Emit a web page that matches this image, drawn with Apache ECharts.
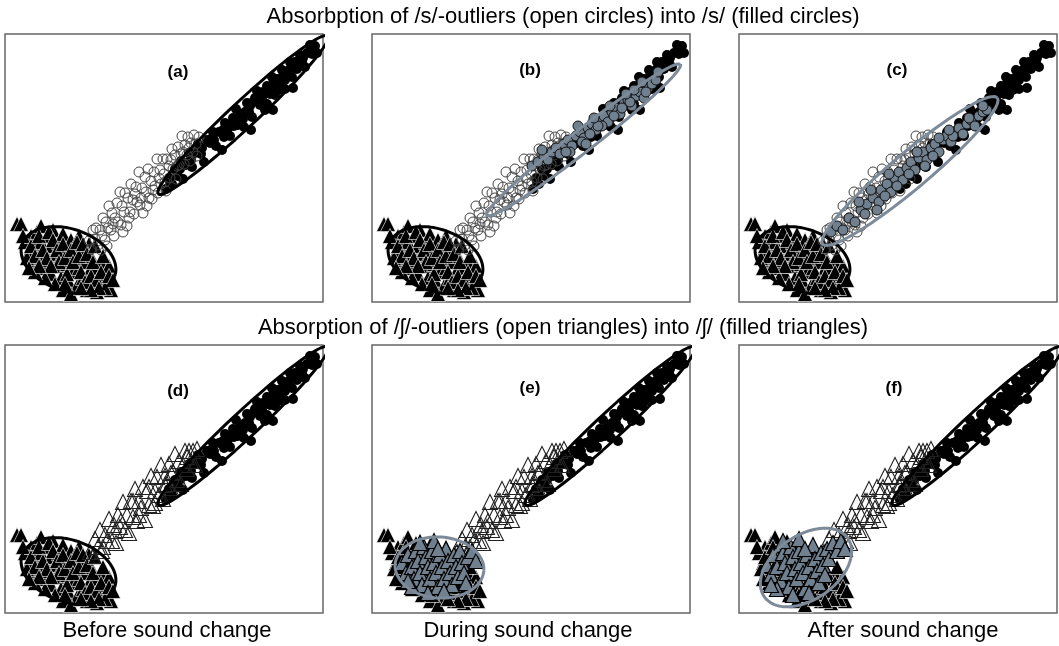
<!DOCTYPE html>
<html><head><meta charset="utf-8">
<script src="https://cdn.jsdelivr.net/npm/echarts@6/dist/echarts.min.js"></script>
<style>html,body{margin:0;padding:0;background:#fff}#c{width:1059px;height:646px}</style>
</head><body><div id="c"></div>
<script>
// Panel coordinates: x 0..318 from left, y 0..268 from bottom
const filledCircles = [[161,113],[164,124],[167,118],[170,133],[173,126],[176,141],[178,123],[181,137],[184,149],[187,135],[190,149],[193,158],[196,148],[199,140],[202,162],[205,159],[208,170],[211,156],[214,170],[217,152],[220,179],[222,171],[225,166],[228,184],[231,193],[233,177],[236,188],[239,175],[242,199],[244,190],[247,185],[250,204],[252,211],[255,197],[257,204],[260,192],[262,216],[265,208],[267,225],[270,207],[272,223],[275,217],[277,232],[280,213],[282,228],[285,240],[287,225],[290,240],[292,233],[295,247],[297,241],[300,235],[302,249],[305,257],[307,248],[310,256],[312,249],[245,196],[258,210],[268,218],[278,226],[288,236],[298,244],[248,200],[262,198],[274,212],[284,232],[294,238],[240,190],[230,183],[218,172],[206,163],[194,152],[183,140],[172,130],[226,176],[252,204],[266,214],[280,222],[268,192],[288,214],[246,172],[165,120],[175,133],[186,142],[197,154],[209,162],[219,165],[229,176],[238,183]];
const openCircles = [[84,61],[86,53],[88,72],[90,63],[91,74],[93,57],[95,72],[97,66],[98,84],[100,62],[101,80],[103,74],[104,96],[106,72],[107,89],[109,66],[110,84],[112,99],[113,80],[115,110],[116,77],[117,96],[119,90],[120,109],[122,76],[123,104],[125,90],[126,118],[128,102],[129,88],[131,115],[132,100],[134,130],[135,97],[137,114],[138,89],[140,125],[141,110],[143,133],[144,104],[146,121],[147,103],[149,130],[150,116],[152,143],[153,109],[155,132],[156,118],[158,143],[159,128],[161,111],[162,143],[164,136],[165,124],[167,153],[168,133],[170,147],[171,123],[173,155],[174,137],[176,148],[177,166],[179,138],[180,157],[182,147],[183,165],[185,141],[186,159],[188,150],[189,167],[191,158],[192,146],[194,165],[96,52],[102,56],[118,70],[124,84],[136,104],[142,96],[148,112],[160,120],[166,142],[178,150],[108,78],[130,108],[154,124],[172,136],[184,154]];
const grayCirclesB = [[160,136],[166,140],[172,146],[176,142],[180,150],[184,154],[188,148],[192,158],[196,162],[200,156],[204,166],[208,170],[212,164],[216,174],[220,178],[224,172],[228,182],[232,186],[236,180],[240,190],[244,194],[248,188],[252,198],[256,202],[260,196],[264,206],[268,210],[272,204],[276,214],[280,218],[284,222],[170,152],[198,150],[230,176],[262,212],[210,160],[226,176],[242,186],[258,200],[274,210],[250,194],[218,168],[206,176],[222,184],[238,196],[254,208],[270,220],[286,230],[194,150],[214,158]];
const grayCirclesC = [[92,70],[98,76],[104,72],[110,84],[116,80],[122,92],[128,98],[126,88],[134,104],[140,100],[142,112],[148,118],[152,110],[156,124],[160,130],[164,122],[168,134],[172,140],[176,132],[180,144],[184,150],[188,142],[192,154],[196,158],[200,150],[204,162],[208,166],[212,160],[216,170],[220,174],[224,168],[228,178],[232,182],[236,176],[240,186],[244,190],[248,192],[138,92],[150,128],[186,136],[200,164],[214,166],[230,184],[244,196],[170,128],[158,116],[120,100],[132,112],[146,106],[178,150],[194,146],[210,172]];
const filledTriangles = [[20,60],[24,50],[26,66],[28,40],[30,56],[32,70],[34,46],[36,60],[38,34],[40,52],[42,66],[44,42],[46,28],[46,56],[48,72],[50,48],[52,36],[54,60],[56,24],[56,46],[58,68],[60,54],[62,38],[64,20],[64,48],[66,62],[68,30],[70,42],[70,56],[72,16],[74,34],[76,50],[78,24],[80,40],[82,12],[84,30],[86,46],[88,20],[90,34],[92,10],[94,26],[96,40],[98,16],[100,28],[102,20],[104,36],[58,12],[50,18],[40,24],[36,76],[30,30],[106,12],[66,8],[84,58],[74,66],[12,78],[16,78],[18,66],[22,44],[26,56],[30,46],[34,66],[38,52],[42,44],[44,70],[48,62],[52,52],[54,40],[58,58],[60,44],[62,28],[66,52],[68,40],[72,60],[74,46],[76,30],[78,58],[80,20],[82,48],[86,26],[88,40],[90,56],[92,22],[96,30],[98,46],[100,14],[104,26],[108,22],[94,14],[86,12],[76,14],[60,18],[46,36],[34,36],[24,34]];
const openTriangles = [[85,61],[88,57],[90,74],[93,66],[95,83],[97,62],[100,78],[102,72],[104,94],[107,72],[109,88],[111,70],[113,98],[115,86],[118,111],[120,83],[122,98],[124,80],[126,112],[128,96],[130,124],[132,92],[134,112],[136,105],[138,126],[140,93],[142,122],[144,108],[146,137],[148,107],[150,122],[152,136],[154,118],[156,148],[158,114],[160,137],[162,129],[164,149],[166,125],[168,141],[170,159],[172,133],[174,152],[176,129],[178,148],[180,162],[182,144],[184,162],[186,152],[188,162],[190,148],[192,164],[98,66],[116,92],[134,98],[150,110],[166,140],[182,156],[128,112],[110,82],[144,126],[160,128]];
const grayTrianglesE = [[30,50],[34,40],[36,58],[40,46],[42,34],[44,62],[46,52],[48,40],[50,28],[52,66],[54,56],[56,46],[58,34],[60,62],[62,50],[64,40],[66,26],[68,58],[70,46],[72,34],[74,64],[76,52],[78,40],[80,28],[82,58],[84,46],[86,36],[88,62],[90,50],[92,40],[96,56],[100,62],[104,52],[48,70],[62,72],[40,26],[56,20],[72,22],[94,30],[66,64],[36,32]];
const grayTrianglesF = [[28,48],[32,38],[34,58],[38,46],[42,32],[44,60],[46,50],[48,40],[50,26],[52,66],[54,56],[56,44],[58,34],[60,62],[62,50],[64,40],[66,24],[68,58],[70,46],[72,34],[74,68],[76,54],[78,42],[80,30],[82,60],[84,48],[88,64],[90,54],[94,70],[98,62],[102,72],[106,64],[44,72],[60,74],[38,24],[54,18],[70,20],[86,38],[66,64],[32,28]];
// ellipses: [cx, cy, semiMajor, semiMinor, angleDeg]
const ellipseCircles = [238,187,116,13,43];
const ellipseTriangles = [63.5,42,49,31,-19];
const ellipseGrayB = [211.5,162,123,11,38];
const ellipseGrayC = [171,131,114,18,40];
const ellipseGrayE = [67.5,45.5,44.5,30.5,-4];
const ellipseGrayF = [67,45.5,51,32,35];
const panelLabels = ['(a)','(b)','(c)','(d)','(e)','(f)'];
const rowTitles = ['Absorbption of /s/-outliers (open circles) into /s/ (filled circles)','Absorption of /ʃ/-outliers (open triangles) into /ʃ/ (filled triangles)'];
const columnLabels = ['Before sound change','During sound change','After sound change'];

const GRAY = '#71808f';
const GRAYLINE = '#7c8a99';
const lefts = [5,372,739], tops = [34,345], W = 318, H = 268;

function ellipsePts(p){
  const [cx,cy,a,b,ang] = p, r = ang*Math.PI/180, pts = [];
  for(let i=0;i<=96;i++){const t=2*Math.PI*i/96, x=a*Math.cos(t), y=b*Math.sin(t);
    pts.push([cx+x*Math.cos(r)-y*Math.sin(r), cy+x*Math.sin(r)+y*Math.cos(r)]);}
  return pts;
}
const grids=[], xAxes=[], yAxes=[], series=[];
for(let r=0;r<2;r++)for(let c=0;c<3;c++){
  grids.push({left:lefts[c],top:tops[r],width:W,height:H,show:true,borderColor:'#666',borderWidth:1.5,backgroundColor:'#fff'});
  xAxes.push({type:'value',min:0,max:W,show:false,gridIndex:grids.length-1});
  yAxes.push({type:'value',min:0,max:H,show:false,gridIndex:grids.length-1});
}
function sc(i,data,symbol,size,fill,border,bw){
  series.push({type:'scatter',xAxisIndex:i,yAxisIndex:i,data:data,symbol:symbol,symbolSize:size,silent:true,
    itemStyle:{color:fill,borderColor:border,borderWidth:bw,opacity:1}});
}
function el(i,p,color){
  series.push({type:'line',xAxisIndex:i,yAxisIndex:i,data:ellipsePts(p),showSymbol:false,symbol:'none',smooth:false,clip:true,silent:true,
    lineStyle:{color:color,width:3}});
}
const TRANS='rgba(255,255,255,0)';
const TS=15, CS=10;
// (a)
sc(0,filledTriangles,'triangle',TS,'#000','#fff',0.6);
sc(0,filledCircles,'circle',CS,'#000','#000',0);
sc(0,openCircles,'circle',CS,TRANS,'#444',1);
el(0,ellipseTriangles,'#000'); el(0,ellipseCircles,'#000');
// (b)
sc(1,filledTriangles,'triangle',TS,'#000','#fff',0.6);
sc(1,filledCircles,'circle',CS,'#000','#000',0);
sc(1,openCircles,'circle',CS,TRANS,'#444',1);
sc(1,grayCirclesB,'circle',CS,GRAY,'#111',1);
el(1,ellipseTriangles,'#000'); el(1,ellipseGrayB,GRAYLINE);
// (c)
sc(2,filledTriangles,'triangle',TS,'#000','#fff',0.6);
sc(2,filledCircles,'circle',CS,'#000','#000',0);
sc(2,openCircles,'circle',CS,TRANS,'#444',1);
sc(2,grayCirclesC,'circle',CS,GRAY,'#111',1);
el(2,ellipseTriangles,'#000'); el(2,ellipseGrayC,GRAYLINE);
// (d)
sc(3,filledTriangles,'triangle',TS,'#000','#fff',0.6);
sc(3,filledCircles,'circle',CS,'#000','#000',0);
sc(3,openTriangles,'triangle',TS,TRANS,'#222',1.1);
el(3,ellipseTriangles,'#000'); el(3,ellipseCircles,'#000');
// (e)
sc(4,filledTriangles,'triangle',TS,'#000','#fff',0.6);
sc(4,filledCircles,'circle',CS,'#000','#000',0);
sc(4,openTriangles,'triangle',TS,TRANS,'#222',1.1);
sc(4,grayTrianglesE,'triangle',TS,GRAY,'#000',1.2);
el(4,ellipseCircles,'#000'); el(4,ellipseGrayE,GRAYLINE);
// (f)
sc(5,filledTriangles,'triangle',TS,'#000','#fff',0.6);
sc(5,filledCircles,'circle',CS,'#000','#000',0);
sc(5,openTriangles,'triangle',TS,TRANS,'#222',1.1);
sc(5,grayTrianglesF,'triangle',TS,GRAY,'#000',1.2);
el(5,ellipseCircles,'#000'); el(5,ellipseGrayF,GRAYLINE);

const FONT = '"Liberation Sans", Arial, Helvetica, sans-serif';
const labelPos = [[178,72],[530,70],[897,70],[178,391],[530,388],[894,388]];
const graphic = [];
panelLabels.forEach((t,i)=>graphic.push({type:'text',x:labelPos[i][0],y:labelPos[i][1],z:100,
  style:{text:t,fontFamily:FONT,fontSize:17,fontWeight:'bold',fill:'#000',textAlign:'center',textVerticalAlign:'middle'}}));
const rowY=[17,328];
rowTitles.forEach((t,i)=>graphic.push({type:'text',x:563,y:rowY[i],z:100,
  style:{text:t,fontFamily:FONT,fontSize:22,fill:'#000',textAlign:'center',textVerticalAlign:'middle'}}));
const colX=[167,528,903];
columnLabels.forEach((t,i)=>graphic.push({type:'text',x:colX[i],y:631,z:100,
  style:{text:t,fontFamily:FONT,fontSize:22,fill:'#000',textAlign:'center',textVerticalAlign:'middle'}}));

const chart = echarts.init(document.getElementById('c'));
chart.setOption({animation:false,backgroundColor:'#fff',grid:grids,xAxis:xAxes,yAxis:yAxes,series:series,graphic:graphic});
</script></body></html>
